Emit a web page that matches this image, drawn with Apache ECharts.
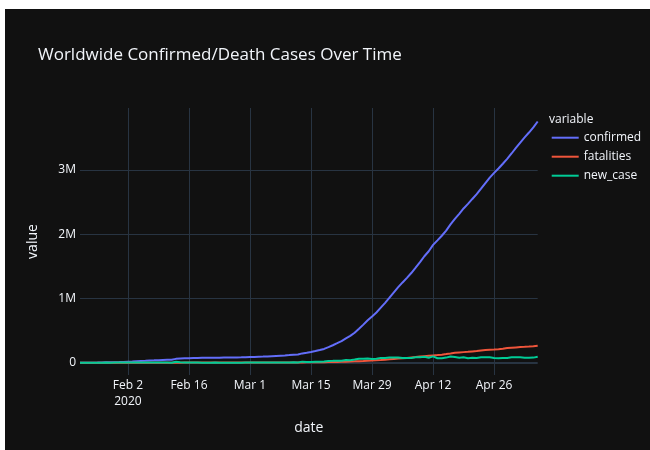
<!DOCTYPE html>
<html>
<head>
<meta charset="utf-8">
<script src="https://cdn.jsdelivr.net/npm/echarts@6/dist/echarts.min.js"></script>
<style>
  html, body { margin: 0; padding: 0; background: #ffffff; width: 650px; height: 450px; overflow: hidden; }
  #chart { position: absolute; left: 5px; top: 9px; width: 645px; height: 441px; background: #111111; }
</style>
</head>
<body>
<div id="chart"></div>
<script>
// Daily worldwide totals, 2020-01-22 .. 2020-05-06
const dates = [
  '2020-01-22','2020-01-23','2020-01-24','2020-01-25','2020-01-26','2020-01-27','2020-01-28','2020-01-29','2020-01-30','2020-01-31',
  '2020-02-01','2020-02-02','2020-02-03','2020-02-04','2020-02-05','2020-02-06','2020-02-07','2020-02-08','2020-02-09','2020-02-10',
  '2020-02-11','2020-02-12','2020-02-13','2020-02-14','2020-02-15','2020-02-16','2020-02-17','2020-02-18','2020-02-19','2020-02-20',
  '2020-02-21','2020-02-22','2020-02-23','2020-02-24','2020-02-25','2020-02-26','2020-02-27','2020-02-28','2020-02-29','2020-03-01',
  '2020-03-02','2020-03-03','2020-03-04','2020-03-05','2020-03-06','2020-03-07','2020-03-08','2020-03-09','2020-03-10','2020-03-11',
  '2020-03-12','2020-03-13','2020-03-14','2020-03-15','2020-03-16','2020-03-17','2020-03-18','2020-03-19','2020-03-20','2020-03-21',
  '2020-03-22','2020-03-23','2020-03-24','2020-03-25','2020-03-26','2020-03-27','2020-03-28','2020-03-29','2020-03-30','2020-03-31',
  '2020-04-01','2020-04-02','2020-04-03','2020-04-04','2020-04-05','2020-04-06','2020-04-07','2020-04-08','2020-04-09','2020-04-10',
  '2020-04-11','2020-04-12','2020-04-13','2020-04-14','2020-04-15','2020-04-16','2020-04-17','2020-04-18','2020-04-19','2020-04-20',
  '2020-04-21','2020-04-22','2020-04-23','2020-04-24','2020-04-25','2020-04-26','2020-04-27','2020-04-28','2020-04-29','2020-04-30',
  '2020-05-01','2020-05-02','2020-05-03','2020-05-04','2020-05-05','2020-05-06'
];

const confirmed = [
  555, 654, 941, 1434, 2118, 2927, 5578, 6166, 8234, 9927,
  12038, 16787, 19881, 23892, 27635, 30817, 34391, 37120, 40150, 42762,
  44802, 45221, 60368, 66885, 69030, 71224, 73258, 75136, 75639, 76197,
  76819, 78572, 78958, 79561, 80406, 81388, 82746, 84112, 86011, 88369,
  90306, 92840, 95120, 97886, 101801, 105847, 109821, 113590, 118620, 125875,
  128352, 145205, 156101, 167454, 181574, 197102, 214821, 242570, 272208, 304507,
  336953, 378235, 418045, 467653, 529591, 593291, 660706, 720117, 782365, 857487,
  932605, 1013157, 1095917, 1176060, 1249754, 1321481, 1396476, 1480202, 1565278, 1657526,
  1735650, 1834721, 1904838, 1976191, 2056054, 2152437, 2240190, 2317758, 2401378, 2472259,
  2549123, 2624068, 2708885, 2795735, 2881140, 2955033, 3023722, 3097229, 3172287, 3256910,
  3343777, 3427343, 3506729, 3583055, 3662691, 3755341
];

const fatalities = [
  17, 18, 26, 42, 56, 82, 131, 133, 171, 213,
  259, 362, 426, 492, 564, 634, 719, 806, 906, 1013,
  1113, 1118, 1371, 1523, 1666, 1770, 1868, 2007, 2122, 2247,
  2251, 2458, 2469, 2629, 2708, 2770, 2814, 2872, 2941, 2996,
  3085, 3160, 3254, 3348, 3460, 3558, 3802, 3988, 4262, 4615,
  4720, 5404, 5819, 6440, 7126, 7905, 8733, 9867, 11299, 12973,
  14623, 16497, 18615, 21181, 23970, 27198, 30652, 33925, 37582, 42107,
  46809, 52983, 58787, 64606, 69374, 74565, 81865, 88338, 95455, 102525,
  108503, 114090, 119481, 125983, 134176, 143800, 153821, 159509, 165044, 169986,
  176583, 183066, 190858, 197159, 202846, 206544, 211167, 217153, 227638, 233388,
  238650, 243808, 247470, 251537, 257239, 263855
];

const newCase = [
  0, 99, 287, 493, 684, 809, 2651, 588, 2068, 1693,
  2111, 4749, 3094, 4011, 3743, 3182, 3574, 2729, 3030, 2612,
  2040, 419, 15147, 6517, 2145, 2194, 2034, 1878, 503, 558,
  622, 1753, 386, 603, 845, 982, 1358, 1366, 1899, 2358,
  1937, 2534, 2280, 2766, 3915, 4046, 3974, 3769, 5030, 7255,
  2477, 16853, 10896, 11353, 14120, 15528, 17719, 27749, 29638, 32299,
  32446, 41282, 39810, 49608, 61938, 63700, 67415, 59411, 62248, 75122,
  75118, 80552, 82760, 80143, 73694, 71727, 74995, 83726, 85076, 92248,
  78124, 99071, 70117, 71353, 79863, 96383, 87753, 77568, 83620, 70881,
  76864, 74945, 84817, 86850, 85405, 73893, 68689, 73507, 75058, 84623,
  86867, 83566, 79386, 76326, 79636, 92650
];

// Date axis ticks (every two weeks) and value axis ticks
const tickDates = ['2020-02-02','2020-02-16','2020-03-01','2020-03-15','2020-03-29','2020-04-12','2020-04-26'];
const tickTexts = ['Feb 2\n2020','Feb 16','Mar 1','Mar 15','Mar 29','Apr 12','Apr 26'];
const valueTicks = [0, 1000000, 2000000, 3000000];
const valueTickTexts = ['0', '1M', '2M', '3M'];

const FG = '#f2f5fa';
const GRID = '#283442';
const FONT = '"Open Sans", verdana, arial, sans-serif';

const isTick = (idx, val) => tickDates.indexOf(val !== undefined ? val : dates[idx]) >= 0;

const chart = echarts.init(document.getElementById('chart'), null, { renderer: 'canvas' });

const option = {
  backgroundColor: '#111111',
  animation: false,
  textStyle: { fontFamily: FONT },
  title: [
    {
      text: 'Worldwide Confirmed/Death Cases Over Time',
      left: 33, top: 38, padding: 0,
      textStyle: { color: FG, fontSize: 17, fontWeight: 'normal', fontFamily: FONT }
    },
    {
      text: 'variable',
      left: 544, top: 105, padding: 0,
      textStyle: { color: FG, fontSize: 12, fontWeight: 'normal', fontFamily: FONT }
    }
  ],
  legend: {
    orient: 'vertical',
    left: 546.7, top: 122.7, padding: 0,
    icon: 'rect',
    itemWidth: 27, itemHeight: 2, itemGap: 7,
    textStyle: { color: FG, fontSize: 12, fontFamily: FONT },
    data: ['confirmed', 'fatalities', 'new_case']
  },
  grid: { left: 75, right: 112.3, top: 99, bottom: 75, containLabel: false },
  xAxis: {
    type: 'category',
    data: dates,
    boundaryGap: false,
    name: 'date',
    nameLocation: 'middle',
    nameGap: 46,
    nameTextStyle: { color: FG, fontSize: 14, fontFamily: FONT },
    axisLine: { show: false },
    axisTick: { show: false },
    axisLabel: {
      color: FG, fontSize: 12, fontFamily: FONT, margin: 3, lineHeight: 16,
      interval: (idx, val) => isTick(idx, val),
      formatter: (val) => { const i = tickDates.indexOf(val); return i >= 0 ? tickTexts[i] : ''; }
    },
    splitLine: {
      show: true,
      interval: (idx, val) => isTick(idx, val),
      lineStyle: { color: GRID, width: 1 }
    }
  },
  yAxis: {
    type: 'value',
    min: -191000,
    max: 3965000,
    name: 'value',
    nameLocation: 'middle',
    nameGap: 40,
    nameTextStyle: { color: FG, fontSize: 14, fontFamily: FONT },
    axisLine: { show: false },
    axisTick: { show: false },
    splitLine: { show: false },
    axisLabel: {
      color: FG, fontSize: 12, fontFamily: FONT, margin: 4,
      customValues: valueTicks,
      formatter: (v) => { const i = valueTicks.indexOf(v); return i >= 0 ? valueTickTexts[i] : ''; }
    }
  },
  series: [
    {
      name: 'confirmed', type: 'line', data: confirmed, showSymbol: false, symbol: 'none',
      lineStyle: { color: '#636efa', width: 2 }, itemStyle: { color: '#636efa' }, z: 3,
      markLine: {
        silent: true, symbol: 'none', z: 1, animation: false,
        label: { show: false },
        data: valueTicks.map(v => ({
          yAxis: v,
          lineStyle: { color: GRID, width: v === 0 ? 2 : 1, type: 'solid' }
        }))
      }
    },
    {
      name: 'fatalities', type: 'line', data: fatalities, showSymbol: false, symbol: 'none',
      lineStyle: { color: '#EF553B', width: 2 }, itemStyle: { color: '#EF553B' }, z: 3
    },
    {
      name: 'new_case', type: 'line', data: newCase, showSymbol: false, symbol: 'none',
      lineStyle: { color: '#00cc96', width: 2 }, itemStyle: { color: '#00cc96' }, z: 3
    }
  ]
};

chart.setOption(option);
</script>
</body>
</html>
